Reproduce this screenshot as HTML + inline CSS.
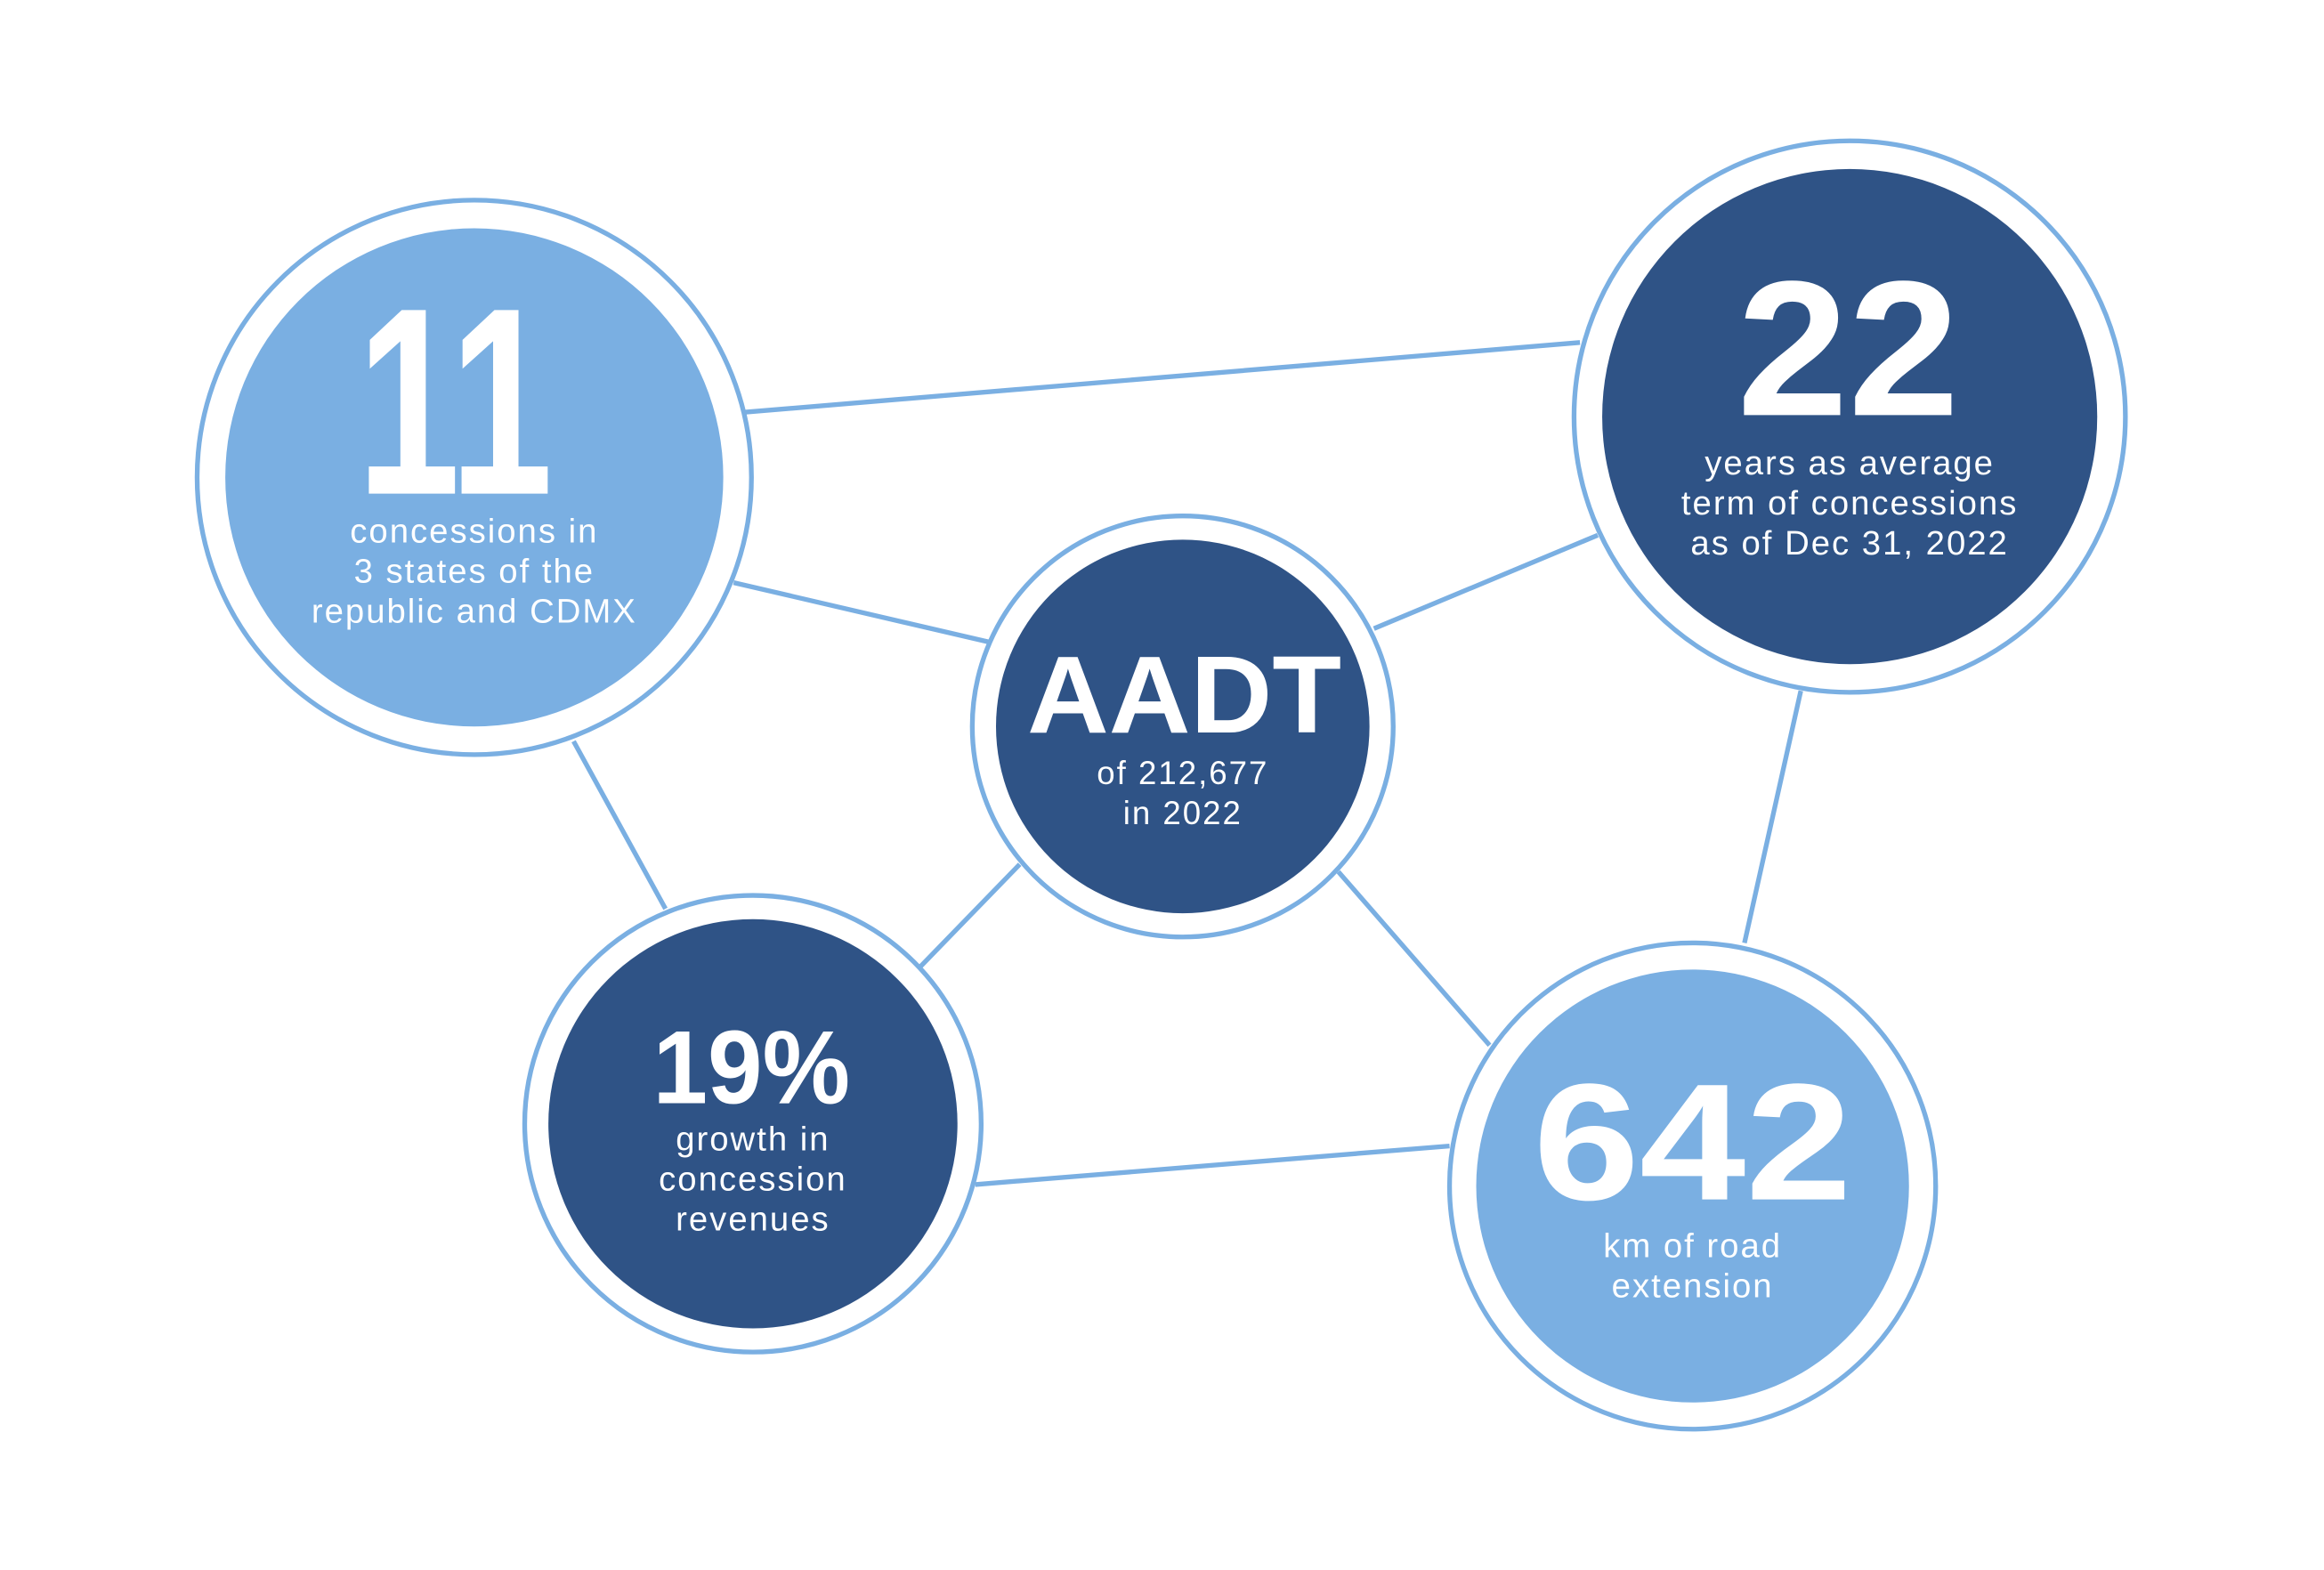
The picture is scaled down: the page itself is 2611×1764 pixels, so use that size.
<!DOCTYPE html>
<html><head><meta charset="utf-8"><style>html,body{margin:0;padding:0;background:#fff}svg{display:block}</style></head>
<body>
<svg width="2611" height="1764" viewBox="0 0 1568 1059" preserveAspectRatio="none" xmlns="http://www.w3.org/2000/svg">
<g stroke="#7aafe2" stroke-width="3.2" fill="none">
<line x1="503" y1="278" x2="1066" y2="231"/>
<line x1="495" y1="393" x2="667" y2="433"/>
<line x1="1078" y1="361" x2="927" y2="424"/>
<line x1="387" y1="500" x2="449" y2="613"/>
<line x1="688" y1="583" x2="620" y2="653"/>
<line x1="903" y1="588" x2="1005" y2="705"/>
<line x1="1215" y1="466" x2="1177" y2="636"/>
<line x1="658" y1="799" x2="978" y2="773"/>
</g>
<g stroke="#7aafe2" stroke-width="3.2" fill="#fff">
<circle cx="320" cy="322" r="187"/>
<circle cx="1248" cy="281" r="186"/>
<circle cx="798" cy="490" r="142"/>
<circle cx="508" cy="758" r="154"/>
<circle cx="1142" cy="800" r="164"/>
</g>
<circle cx="320" cy="322" r="168" fill="#7aafe2"/>
<circle cx="1248" cy="281" r="167" fill="#2f5386"/>
<circle cx="798" cy="490" r="126" fill="#2f5386"/>
<circle cx="508" cy="758" r="138" fill="#2f5386"/>
<circle cx="1142" cy="800" r="146" fill="#7aafe2"/>
<g fill="#fff" font-family="Liberation Sans, sans-serif" text-anchor="middle">
<text x="307" y="333" font-size="180" font-weight="bold" textLength="132" lengthAdjust="spacingAndGlyphs">11</text>
<text x="1247" y="280" font-size="130" font-weight="bold" textLength="150" lengthAdjust="spacingAndGlyphs">22</text>
<text x="799" y="494" font-size="74" font-weight="bold" textLength="212" lengthAdjust="spacingAndGlyphs">AADT</text>
<text x="507" y="744" font-size="70" font-weight="bold" textLength="133" lengthAdjust="spacingAndGlyphs">19%</text>
<text x="1142" y="809" font-size="112" font-weight="bold" textLength="215" lengthAdjust="spacingAndGlyphs">642</text>
</g>
<g fill="#fff" font-family="Liberation Sans, sans-serif" text-anchor="middle" font-size="23" letter-spacing="1.2">
<text x="320" y="366">concessions in</text>
<text x="320" y="393">3 states of the</text>
<text x="320" y="420">republic and CDMX</text>
<text x="1248" y="320">years as average</text>
<text x="1248" y="347">term of concessions</text>
<text x="1248" y="374">as of Dec 31, 2022</text>
<text x="798" y="529" font-size="22">of 212,677</text>
<text x="798" y="556" font-size="22">in 2022</text>
<text x="508" y="776">growth in</text>
<text x="508" y="803">concession</text>
<text x="508" y="830">revenues</text>
<text x="1142" y="848">km of road</text>
<text x="1142" y="875">extension</text>
</g>
</svg>
</body></html>
